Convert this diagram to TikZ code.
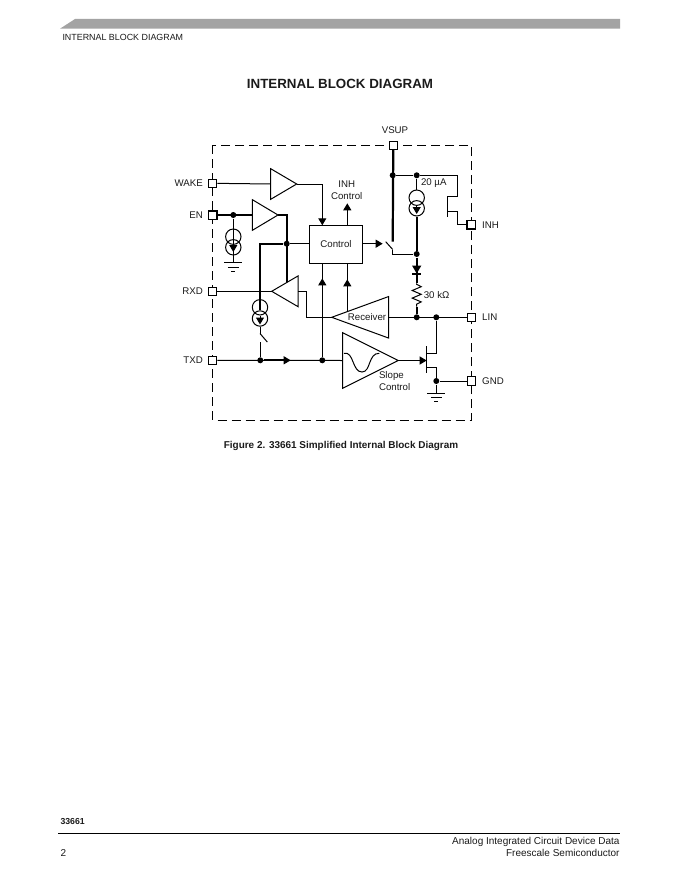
\documentclass[tikz,border=0pt]{standalone}
\usepackage{fontspec}
\setmainfont{Liberation Sans}
\usetikzlibrary{arrows.meta,shapes.geometric}
\definecolor{BarGray}{HTML}{A3A3A3}
\definecolor{Ink}{HTML}{1A1A1A}
\begin{document}
\begin{tikzpicture}[x=1pt,y=-1pt,>={Triangle[length=7pt,width=8pt]},line width=1pt,
  every node/.style={font=\fontsize{9.7}{11.5}\selectfont,text=Ink,align=center,inner sep=0pt},
  pad/.style={rectangle,draw,fill=white,minimum size=8.5pt},
  heavypad/.style={pad,line width=1.5pt},
  dot/.style={circle,fill=black,minimum size=6pt},
  csource/.style={circle,draw,minimum size=15.4pt},
  buffer/.style={isosceles triangle,isosceles triangle stretches,draw,outer sep=0pt,shape border rotate=0},
  revbuffer/.style={buffer,shape border rotate=180},
  heavy/.style={line width=2.2pt},
  gndsym/.pic={
    \draw (-9,0)--(9,0);
    \draw (-5.5,4.3)--(5.5,4.3);
    \draw (-2,8.6)--(2,8.6);}]
  \useasboundingbox (0,0) rectangle (680,880);
  % page furniture
  \fill[BarGray] (60,28.7)--(75,19)--(620,19)--(620,28.7)--cycle;
  \node[anchor=west,font=\fontsize{8.9}{11}\selectfont] (header) at (62,37) {INTERNAL BLOCK DIAGRAM};
  \node[font=\fontsize{13.35}{15}\bfseries\selectfont] (title) at (340,84) {INTERNAL BLOCK DIAGRAM};
  \node[font=\fontsize{9.95}{11}\bfseries\selectfont] (caption) at (341,446) {Figure 2. 33661 Simplified Internal Block Diagram};
  \node[anchor=west,font=\fontsize{8.7}{10}\bfseries\selectfont] (partno) at (60,822) {33661};
  \draw[line width=1.3pt] (58,833.7)--(620,833.7);
  \node[anchor=east,font=\fontsize{10}{11}\selectfont] (foota) at (620,841.5) {Analog Integrated Circuit Device Data};
  \node[anchor=east,font=\fontsize{10}{11}\selectfont] (footb) at (620,853) {Freescale Semiconductor};
  \node[anchor=west,font=\fontsize{10}{11}\selectfont] (pageno) at (60,853) {2};
  % chip outline
  \draw[dash pattern=on 9pt off 5pt] (212.5,145.3) rectangle (471.3,420.3);
  % pins
  \node[pad] (wake) at (212.7,183.3) {};
  \node[heavypad] (en) at (212.7,215) {};
  \node[pad] (rxd) at (212.7,291.3) {};
  \node[pad] (txd) at (212.7,360.3) {};
  \node[pad] (vsup) at (393.3,145.3) {};
  \node[heavypad] (inh) at (471.3,224.7) {};
  \node[pad] (lin) at (471.3,317.3) {};
  \node[pad] (gnd) at (471.3,381) {};
  \node[anchor=east] (wakelbl) at (203.3,183) {WAKE};
  \node[anchor=east] (enlbl) at (203.3,215) {EN};
  \node[anchor=east] (rxdlbl) at (203.3,291) {RXD};
  \node[anchor=east] (txdlbl) at (203.3,360) {TXD};
  \node[anchor=west] (inhlbl) at (481.7,225) {INH};
  \node[anchor=west] (linlbl) at (481.7,317) {LIN};
  \node[anchor=west] (gndlbl) at (481.7,381) {GND};
  \node (vsuplbl) at (395,130) {VSUP};
  % blocks
  \node[draw,minimum width=53.4pt,minimum height=38pt] (control) at (336,244.3) {Control};
  \node[buffer,minimum height=26pt,minimum width=30.6pt,anchor=apex] (wakebuf) at (296.7,184) {};
  \node[buffer,minimum height=25.7pt,minimum width=30.7pt,anchor=apex] (enbuf) at (278,215) {};
  \node[revbuffer,minimum height=26.3pt,minimum width=30.7pt,anchor=apex] (rxdbuf) at (271.7,291.3) {};
  \node[revbuffer,minimum height=57pt,minimum width=41.6pt,anchor=apex] (receiver) at (331.7,317.3) {};
  \node[buffer,minimum height=55.6pt,minimum width=55.6pt,anchor=apex] (slope) at (398.3,360.5) {};
  \node (reclbl) at (367,317) {Receiver};
  \node (inhctl) at (346.7,190) {INH\\Control};
  \node[align=left,anchor=west] (slopelbl) at (378.5,381) {Slope\\Control};
  \node[anchor=west] (cslbl) at (420.5,183) {20 µA};
  \node[anchor=west] (reslbl) at (423.3,294.7) {30 kΩ};
  \draw (344,353.3) .. controls (354,351) and (352,372) .. (362,372) .. controls (371,372) and (368,353) .. (379.3,353.3);
  % junctions
  \node[dot] (endot) at (233.3,215) {};
  \node[dot] (fbdot) at (286.7,243.7) {};
  \node[dot] (swdot) at (260.3,360.3) {};
  \node[dot] (txdot) at (322.3,360.3) {};
  \node[dot] (vsdot) at (392.7,175.3) {};
  \node[dot] (csdot) at (416.7,175.3) {};
  \node[dot] (srcdot) at (416.7,254) {};
  \node[dot] (lindot) at (416.7,317.3) {};
  \node[dot] (busdot) at (436.3,317.3) {};
  \node[dot] (gnddot) at (436.3,381) {};
  % current sources
  \node[csource] (ena) at (233.3,236.7) {};
  \node[csource] (enb) at (233.3,247.3) {};
  \node[csource] (txa) at (260,307.3) {};
  \node[csource] (txb) at (260,318.5) {};
  \node[csource] (vsa) at (416.7,197.7) {};
  \node[csource] (vsb) at (416.7,208.3) {};
  % WAKE and EN paths
  \draw (wake)--(wakebuf.lower side);
  \draw[->] (wakebuf.apex)-|(322.3,225.3);
  \draw[heavy] (en)--(enbuf.lower side);
  \draw[heavy] (enbuf.apex)-|(286.7,281.5);
  \coordinate (engnd) at (233.3,262.7);
  \draw (endot)--(engnd);
  \coordinate (enarr) at (233.3,252);
  \draw[->] (ena)--(enarr);
  \pic at (engnd) {gndsym};
  \draw (fbdot)--(fbdot-|control.west);
  % TXD pull-up and switch
  \coordinate (swtop) at (260,333.5);
  \coordinate (swend) at (267.3,342);
  \coordinate (swbot) at (260.3,342);
  \coordinate (txarr) at (260,324.5);
  \draw[heavy] (fbdot)-|(txb);
  \draw (txb)--(swtop);
  \draw[->] (txa)--(txarr);
  \draw (swtop)--(swend);
  \draw (swbot)--(swdot);
  % TXD and RXD paths
  \coordinate (txtip) at (290.7,360.3);
  \draw (txd)--(slope.lower side);
  \draw[heavy] (swdot)--(284,360.3);
  \draw[->] (swdot)--(txtip);
  \draw (txdot)--(txdot|-control.south);
  \coordinate (txup) at (322.3,278.3);
  \draw[->] (txdot)--(txup);
  \draw (rxd)--(rxdbuf.apex);
  \draw (rxdbuf.lower side)-|(306.7,317.3)--(receiver.apex);
  % receiver to control
  \coordinate (rxup) at (347.3,311.7);
  \coordinate (rxtip) at (347.3,279.3);
  \coordinate (ctlbot) at (347.3,263.3);
  \draw (rxup)--(ctlbot);
  \draw[->] (rxup)--(rxtip);
  \coordinate (ctltop) at (347.3,225.3);
  \coordinate (ctltip) at (347.3,203.3);
  \draw[->] (ctltop)--(ctltip);
  % VSUP side
  \coordinate (ctlsw) at (382.7,243.7);
  \draw[->] (ctlsw-|control.east)--(ctlsw);
  \coordinate (vstop) at (392.7,241.7);
  \coordinate (swa) at (385.7,241.7);
  \coordinate (swb) at (392.7,249.5);
  \draw[heavy] (vsup)--(vstop);
  \draw (swa)--(swb);
  \draw (swb)|-(srcdot);
  \draw (vsdot)--(csdot);
  \draw (csdot)--(vsa);
  \coordinate (csarr) at (416.7,214);
  \draw[->] (vsa)--(csarr);
  \draw[heavy] (vsb)--(srcdot);
  \coordinate (hsup) at (457.3,196.7);
  \coordinate (hsdn) at (457.3,211.3);
  \draw (csdot)-|(hsup)--(447.3,196.7);
  \draw (447.3,196)--(447.3,217.3);
  \draw (447.3,211.3)--(hsdn)|-(inh);
  % diode and resistor
  \coordinate (dioa) at (416.7,273.3);
  \coordinate (diob) at (416.7,283.3);
  \draw[heavy] (srcdot)--(dioa);
  \fill (412,265.5)--(421.4,265.5)--(416.7,273.5)--cycle;
  \draw[heavy] (412,274)--(421.4,274);
  \draw[heavy] (dioa)--(diob);
  \draw (diob)--++(0,1)--++(4.5,2.4)--++(-9,3.8)--++(9,3.8)--++(-9,3.8)--++(9,3.8)--++(-4.5,2.2)--(416.7,306.5);
  \draw[heavy] (416.7,306.5)--(lindot);
  % LIN and GND side
  \draw (receiver.lower side)--(lin);
  \coordinate (lsdn) at (436.3,353.3);
  \coordinate (lsup) at (436.3,367.3);
  \draw (busdot)--(lsdn)--(426.7,353.3);
  \draw (426.7,346)--(426.7,373.3);
  \draw (426.7,367.3)--(lsup)--(gnddot);
  \draw (gnddot)--(gnd);
  \coordinate (lsgnd) at (436.3,393.3);
  \draw (gnddot)--(lsgnd);
  \pic at (lsgnd) {gndsym};
  \coordinate (gatetip) at (426.7,360.5);
  \draw[->] (slope.apex)--(gatetip);
\end{tikzpicture}
\end{document}
